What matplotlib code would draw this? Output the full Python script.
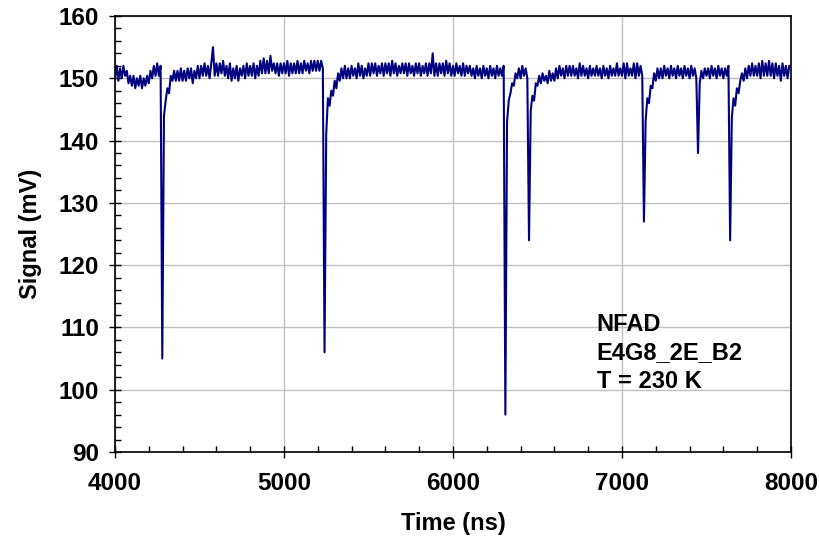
import numpy as np
import matplotlib
matplotlib.use("Agg")
import matplotlib.pyplot as plt
from matplotlib.ticker import MultipleLocator

# sample times (ns), 10 ns apart
time_ns = np.arange(4000, 8000, 10)

# signal (mV), one row per 100 ns
signal_mv = [
    150.0, 152.0, 149.6, 151.6, 150.0, 152.0, 150.4, 151.2, 149.2, 150.4,   # 4000
    148.8, 150.4, 148.4, 150.0, 148.8, 150.4, 148.4, 150.0, 148.8, 150.4,   # 4100
    149.2, 151.2, 150.0, 152.0, 150.4, 152.4, 150.4, 152.0, 105.0, 144.0,   # 4200
    146.4, 148.4, 147.6, 150.4, 149.6, 151.2, 149.6, 151.2, 149.6, 151.6,   # 4300
    149.6, 151.2, 149.6, 151.6, 150.0, 151.6, 149.2, 151.2, 150.0, 152.0,   # 4400
    150.0, 152.0, 150.4, 152.4, 150.4, 152.0, 150.0, 152.4, 155.0, 150.4,   # 4500
    152.4, 150.4, 152.4, 150.8, 152.8, 150.4, 152.0, 150.0, 152.4, 149.6,   # 4600
    151.6, 150.0, 152.0, 149.6, 151.6, 150.4, 152.0, 150.0, 152.4, 150.4,   # 4700
    152.0, 150.4, 152.4, 150.0, 152.0, 150.4, 152.8, 150.8, 153.2, 150.8,   # 4800
    152.8, 150.8, 153.6, 151.2, 152.4, 150.8, 152.4, 150.4, 152.4, 150.8,   # 4900
    152.4, 150.8, 152.8, 150.4, 152.4, 150.8, 152.4, 150.8, 152.8, 150.8,   # 5000
    152.4, 150.8, 152.8, 151.2, 152.4, 150.8, 152.8, 151.2, 152.8, 151.2,   # 5100
    152.8, 151.2, 152.8, 151.6, 106.0, 141.0, 146.8, 145.6, 148.0, 147.2,   # 5200
    149.6, 148.4, 150.8, 149.6, 151.6, 150.0, 152.0, 150.0, 151.6, 150.0,   # 5300
    152.0, 150.4, 151.6, 150.0, 152.4, 150.4, 152.0, 150.0, 151.6, 150.4,   # 5400
    152.4, 150.4, 152.4, 150.8, 152.4, 150.4, 152.0, 150.8, 152.4, 150.4,   # 5500
    152.4, 150.8, 152.4, 150.4, 152.8, 150.8, 152.4, 150.4, 152.0, 150.8,   # 5600
    152.4, 150.8, 152.4, 150.4, 152.4, 150.8, 152.0, 150.4, 152.4, 150.8,   # 5700
    152.4, 150.4, 152.0, 150.8, 152.4, 150.4, 152.4, 150.8, 154.0, 150.4,   # 5800
    152.4, 150.4, 152.4, 150.8, 152.4, 150.4, 152.8, 150.8, 152.4, 150.4,   # 5900
    152.0, 150.4, 152.4, 150.8, 152.0, 150.4, 152.4, 150.4, 152.0, 150.8,   # 6000
    152.0, 150.4, 151.6, 150.0, 152.0, 150.4, 151.6, 150.0, 152.0, 150.4,   # 6100
    151.6, 150.0, 152.0, 150.4, 151.6, 150.0, 152.0, 150.4, 151.6, 150.4,   # 6200
    152.0, 96.0, 143.0, 146.4, 147.6, 149.2, 148.8, 150.8, 150.0, 151.6,    # 6300
    150.0, 152.0, 150.4, 151.6, 150.0, 124.0, 144.8, 147.2, 146.4, 149.2,   # 6400
    148.8, 150.4, 149.2, 150.8, 149.6, 150.4, 149.2, 151.2, 149.6, 150.8,   # 6500
    149.6, 151.6, 150.0, 152.0, 150.4, 151.6, 150.0, 152.0, 150.4, 152.0,   # 6600
    150.4, 152.0, 150.4, 151.6, 150.0, 152.4, 150.4, 152.0, 150.4, 151.6,   # 6700
    150.0, 152.0, 150.4, 151.6, 150.4, 152.0, 150.4, 151.6, 150.0, 152.0,   # 6800
    150.4, 151.6, 150.0, 152.0, 150.4, 151.6, 150.4, 152.4, 150.4, 151.6,   # 6900
    150.4, 152.4, 150.0, 152.4, 150.4, 151.6, 150.4, 152.4, 150.0, 152.4,   # 7000
    150.4, 152.0, 150.4, 127.0, 143.2, 146.8, 146.0, 148.8, 148.4, 150.8,   # 7100
    149.6, 151.6, 150.0, 151.6, 150.0, 152.0, 150.4, 151.6, 150.0, 152.0,   # 7200
    150.4, 151.6, 150.0, 152.0, 150.4, 151.6, 150.0, 152.0, 150.4, 151.6,   # 7300
    150.0, 152.0, 150.4, 151.6, 150.0, 138.0, 149.2, 151.2, 150.0, 151.6,   # 7400
    150.4, 151.6, 150.0, 152.0, 150.4, 151.6, 150.0, 152.0, 150.4, 151.6,   # 7500
    150.0, 151.6, 150.4, 152.0, 124.0, 143.6, 146.8, 145.6, 148.4, 147.6,   # 7600
    149.6, 150.8, 149.6, 151.6, 150.0, 152.0, 150.4, 152.4, 150.4, 152.0,   # 7700
    150.4, 152.4, 150.0, 152.8, 150.4, 152.4, 150.4, 152.8, 150.4, 152.4,   # 7800
    150.0, 152.4, 150.4, 152.0, 149.6, 152.4, 150.4, 152.0, 150.0, 152.0,   # 7900
]

label_lines = ["NFAD", "E4G8_2E_B2", "T = 230 K"]

plt.rcParams['font.family'] = ['Liberation Sans', 'DejaVu Sans']
plt.rcParams['font.weight'] = 'bold'

fig = plt.figure(figsize=(8.2, 5.37), dpi=100)
ax = fig.add_axes([0.1402, 0.1583, 0.8244, 0.8119])

ax.plot(time_ns, signal_mv, color='#000080', lw=1.5)

ax.set_xlim(4000, 8000)
ax.set_ylim(90, 160)
ax.xaxis.set_major_locator(MultipleLocator(1000))
ax.xaxis.set_minor_locator(MultipleLocator(200))
ax.yaxis.set_major_locator(MultipleLocator(10))
ax.yaxis.set_minor_locator(MultipleLocator(2))
ax.grid(True, which='major', color='#c0c0c0', lw=1.0)
ax.set_axisbelow(True)

ax.tick_params(which='major', direction='inout', length=9, width=1,
               labelsize=17.5, pad=7, top=False, right=False)
ax.tick_params(axis='x', which='major', pad=10)
ax.tick_params(which='minor', direction='in', length=4, width=1,
               top=False, right=False)
for lbl in ax.get_xticklabels() + ax.get_yticklabels():
    lbl.set_fontweight('bold')
for sp in ax.spines.values():
    sp.set_linewidth(1.2)

ax.set_xlabel('Time (ns)', fontsize=17, fontweight='bold', labelpad=12)
ax.set_ylabel('Signal (mV)', fontsize=17, fontweight='bold', labelpad=12)

ax.text(6850, 105.9, "\n".join(label_lines), fontsize=17, fontweight='bold',
        va='center', ha='left', linespacing=1.3)

fig.savefig('out.png', dpi=100)
